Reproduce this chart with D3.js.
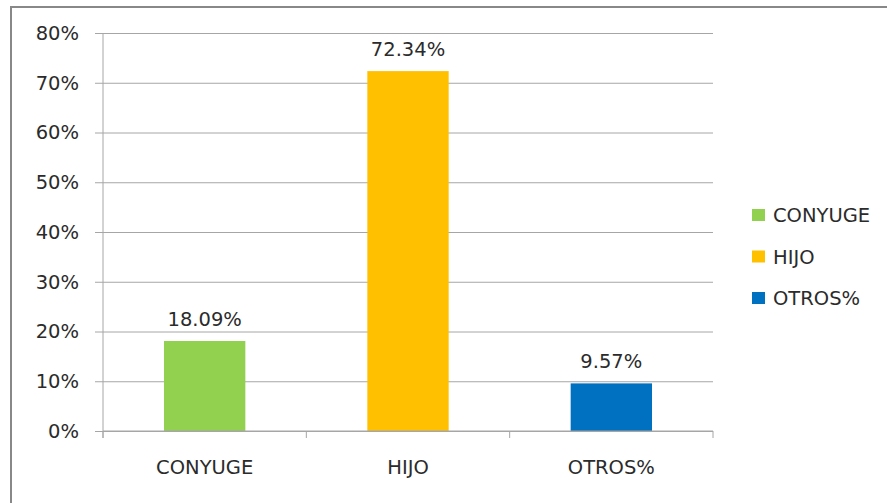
<meta charset="utf-8">
<title>Parentesco</title>
<style>
  body { margin: 0; background: #fff; }
  text { font-family: "DejaVu Sans", sans-serif; fill: #2b2b2b; }
</style>
<body>
<script src="https://cdn.jsdelivr.net/npm/d3@7"></script>
<script>

var categories = ['CONYUGE', 'HIJO', 'OTROS%'];
var values = [18.09, 72.34, 9.57];
var colors = ['#92D050', '#FFC000', '#0070C0'];
var yTicks = [0, 10, 20, 30, 40, 50, 60, 70, 80];

var width = 887, height = 503;
var plot = { left: 103, right: 713, top: 33, bottom: 431 };
var fontSize = '19.5px';

var svg = d3.select('body').append('svg')
    .attr('width', width)
    .attr('height', height);

// outer frame (only top and left edges show)
svg.append('path')
    .attr('d', 'M11,' + height + 'V7H' + width)
    .style('fill', 'none')
    .style('stroke', '#888')
    .style('stroke-width', 2);

var x = d3.scaleBand()
    .domain(categories)
    .range([plot.left, plot.right])
    .paddingInner(0.6)
    .paddingOuter(0.3);

var y = d3.scaleLinear()
    .domain([0, 80])
    .range([plot.bottom, plot.top]);

// gridlines + y labels
var yAxis = d3.axisLeft(y)
    .tickValues(yTicks)
    .tickSize(-(plot.right - plot.left))
    .tickPadding(24)
    .tickFormat(function(d){ return d + '%'; });

var gY = svg.append('g')
    .attr('transform', 'translate(' + plot.left + ',0)')
    .call(yAxis);
gY.select('.domain').remove();
gY.selectAll('.tick line')
    .attr('x1', -8)
    .style('stroke', '#a6a6a6');
gY.selectAll('.tick text')
    .style('font-size', fontSize)
    .style('font-family', '"DejaVu Sans", sans-serif')
    .style('fill', '#2b2b2b');

// y axis line
svg.append('line')
    .attr('x1', plot.left).attr('x2', plot.left)
    .attr('y1', plot.top).attr('y2', plot.bottom + 7)
    .style('stroke', '#a6a6a6');

// category ticks
var tickX = [plot.left].concat(categories.map(function(c, i){ return plot.left + x.step() * (i + 1); }));
svg.append('g').selectAll('line')
    .data(tickX)
    .enter().append('line')
    .attr('x1', function(d){ return d; })
    .attr('x2', function(d){ return d; })
    .attr('y1', plot.bottom)
    .attr('y2', plot.bottom + 7)
    .style('stroke', '#a6a6a6');

// bars
svg.append('g').selectAll('rect')
    .data(values)
    .enter().append('rect')
    .attr('x', function(d, i){ return x(categories[i]); })
    .attr('y', function(d){ return y(d); })
    .attr('width', x.bandwidth())
    .attr('height', function(d){ return y(0) - y(d); })
    .style('fill', function(d, i){ return colors[i]; });

// x axis line over the bars
svg.append('line')
    .attr('x1', plot.left).attr('x2', plot.right)
    .attr('y1', plot.bottom).attr('y2', plot.bottom)
    .style('stroke', '#a6a6a6');

// value labels
svg.append('g').selectAll('text')
    .data(values)
    .enter().append('text')
    .attr('x', function(d, i){ return x(categories[i]) + x.bandwidth() / 2; })
    .attr('y', function(d){ return y(d) - 15; })
    .attr('text-anchor', 'middle')
    .style('font-size', fontSize)
    .text(function(d){ return d.toFixed(2) + '%'; });

// category labels
svg.append('g').selectAll('text')
    .data(categories)
    .enter().append('text')
    .attr('x', function(d){ return x(d) + x.bandwidth() / 2; })
    .attr('y', 474)
    .attr('text-anchor', 'middle')
    .style('font-size', fontSize)
    .text(function(d){ return d; });

// legend
var legend = svg.append('g').selectAll('g')
    .data(categories)
    .enter().append('g')
    .attr('transform', function(d, i){ return 'translate(752,' + (215 + i * 41.5) + ')'; });
legend.append('rect')
    .attr('x', 0).attr('y', -6)
    .attr('width', 13).attr('height', 12)
    .style('fill', function(d, i){ return colors[i]; });
legend.append('text')
    .attr('x', 21).attr('y', 7)
    .style('font-size', fontSize)
    .text(function(d){ return d; });

</script>
